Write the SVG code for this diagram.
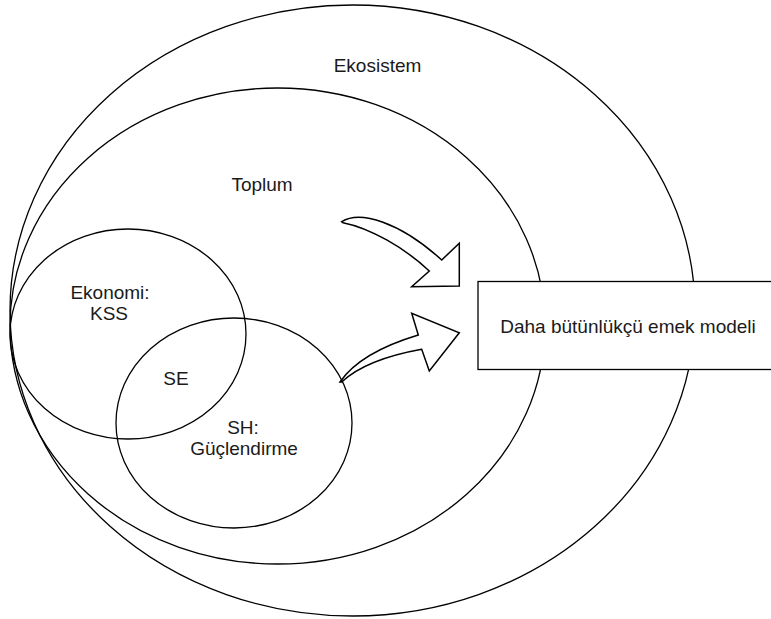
<svg xmlns="http://www.w3.org/2000/svg" width="771" height="619" viewBox="0 0 771 619">
  <style>
    .shape { fill: none; stroke: #000; stroke-width: 1.3; }
    .box { fill: #fff; stroke: #000; stroke-width: 1.3; }
    .arrow { fill: #fff; stroke: #000; stroke-width: 1.5; stroke-linejoin: miter; }
    text { font-family: "Liberation Sans", Arial, sans-serif; font-size: 19px; fill: #1a1a1a; text-anchor: middle; }
  </style>
  <rect x="0" y="0" width="771" height="619" fill="#fff"/>
  <g id="ekosistem">
    <ellipse class="shape" cx="352.5" cy="310.5" rx="342.5" ry="305.5"/>
    <text x="377.5" y="72">Ekosistem</text>
  </g>
  <g id="toplum">
    <ellipse class="shape" cx="277.5" cy="326" rx="267.5" ry="238"/>
    <text x="262" y="191">Toplum</text>
  </g>
  <g id="ekonomi">
    <ellipse class="shape" cx="128" cy="334" rx="118" ry="105"/>
    <text x="110" y="299">Ekonomi:</text>
    <text x="109" y="320">KSS</text>
  </g>
  <g id="sh">
    <ellipse class="shape" cx="234" cy="423" rx="118" ry="105"/>
    <text x="243" y="434">SH:</text>
    <text x="244" y="455">Güçlendirme</text>
  </g>
  <g id="se">
    <text x="176" y="385">SE</text>
  </g>
  <g id="model">
    <rect class="box" x="478" y="281.5" width="310" height="88"/>
    <text x="628" y="333">Daha bütünlükçü emek modeli</text>
  </g>
  <g id="connectors">
    <path class="arrow" d="M 341.7,221.7 C 360,210 400,222 441.7,260 L 459.3,243.3 L 459.3,286 L 411.7,286.7 L 429.3,271 C 405,248 370,228 343,222.7 Z"/>
    <path class="arrow" d="M 340,382 C 355,360 385,345 418.3,335 L 411.7,313.3 L 459.3,332.7 L 429.3,371 L 421.7,349.3 C 390,355 360,365 341.7,382 Z"/>
  </g>
</svg>
